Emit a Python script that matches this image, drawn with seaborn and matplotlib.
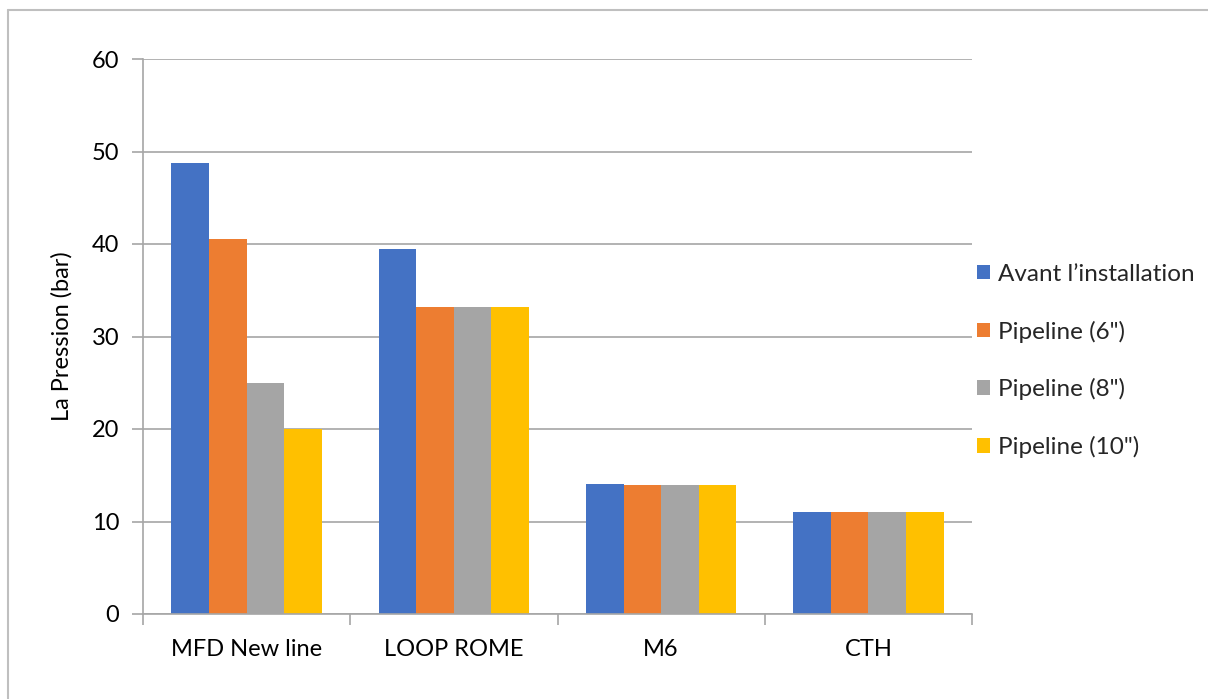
import matplotlib
matplotlib.use("Agg")
import matplotlib.pyplot as plt
from matplotlib.lines import Line2D
from matplotlib.patches import Patch
import seaborn as sns
import pandas as pd

# Pressure per site, before and after each pipeline option
sites = ["MFD New line", "LOOP ROME", "M6", "CTH"]
series = ["Avant l\u2019installation", 'Pipeline (6")', 'Pipeline (8")', 'Pipeline (10")']
avant = [48.8, 39.5, 14.1, 11.0]
pipe6 = [40.5, 33.2, 14.0, 11.0]
pipe8 = [25.0, 33.2, 14.0, 11.0]
pipe10 = [20.0, 33.2, 14.0, 11.0]
colors = ["#4472C4", "#ED7D31", "#A5A5A5", "#FFC000"]
y_ticks = [0, 10, 20, 30, 40, 50, 60]

df = pd.DataFrame({
    "site": sites * 4,
    "serie": [s for s in series for _ in sites],
    "pression": avant + pipe6 + pipe8 + pipe10,
})

sns.set_theme(style="white")
plt.rcParams["font.family"] = ["Lato", "DejaVu Sans"]

fig = plt.figure(figsize=(12.08, 6.99), dpi=100)
ax = fig.add_axes([143 / 1208, 1 - 614 / 699, (972 - 143) / 1208, (614 - 59) / 699])

sns.barplot(data=df, x="site", y="pression", hue="serie", order=sites,
            hue_order=series, palette=colors, width=0.725, saturation=1,
            edgecolor="none", linewidth=0, ax=ax, legend=False)

grid_col = "#A6A6A6"
ax.set_ylim(0, 60)
ax.set_yticks(y_ticks)
ax.set_xlim(-0.5, len(sites) - 0.5)
ax.yaxis.grid(True, color=grid_col, linewidth=1.2)
ax.set_axisbelow(True)
for side in ["top", "right"]:
    ax.spines[side].set_visible(False)
for side in ["left", "bottom"]:
    ax.spines[side].set_color(grid_col)
    ax.spines[side].set_linewidth(1.2)

ax.tick_params(axis="y", direction="out", length=8, width=1.2, color=grid_col,
               labelsize=17, labelcolor="black", pad=9, left=True)
# category labels centred, tick marks on the category boundaries
ax.tick_params(axis="x", which="major", length=0, labelsize=17,
               labelcolor="black", pad=18)
ax.set_xticks(range(len(sites)))
ax.set_xticklabels(sites)
ax.set_xticks([i - 0.5 for i in range(len(sites) + 1)], minor=True)
ax.tick_params(axis="x", which="minor", direction="out", length=8, width=1.2,
               color=grid_col, bottom=True)

ax.set_xlabel("")
ax.set_ylabel("La Pression (bar)", fontsize=17, color="black", labelpad=14)

handles = [Patch(facecolor=c, edgecolor="none") for c in colors]
fig.legend(handles, series, loc="center left",
           bbox_to_anchor=(955 / 1208, 1 - 361 / 699), frameon=False,
           fontsize=17.5, handlelength=0.55, handleheight=0.55,
           handletextpad=0.3, labelspacing=1.47)

# outer chart frame
fig.add_artist(Line2D([8 / 1208, 8 / 1208], [0, 1 - 10 / 699],
                      transform=fig.transFigure, color="#BFBFBF", linewidth=1.5))
fig.add_artist(Line2D([8 / 1208, 1], [1 - 10 / 699, 1 - 10 / 699],
                      transform=fig.transFigure, color="#BFBFBF", linewidth=1.5))

fig.savefig("out.png", dpi=100)
